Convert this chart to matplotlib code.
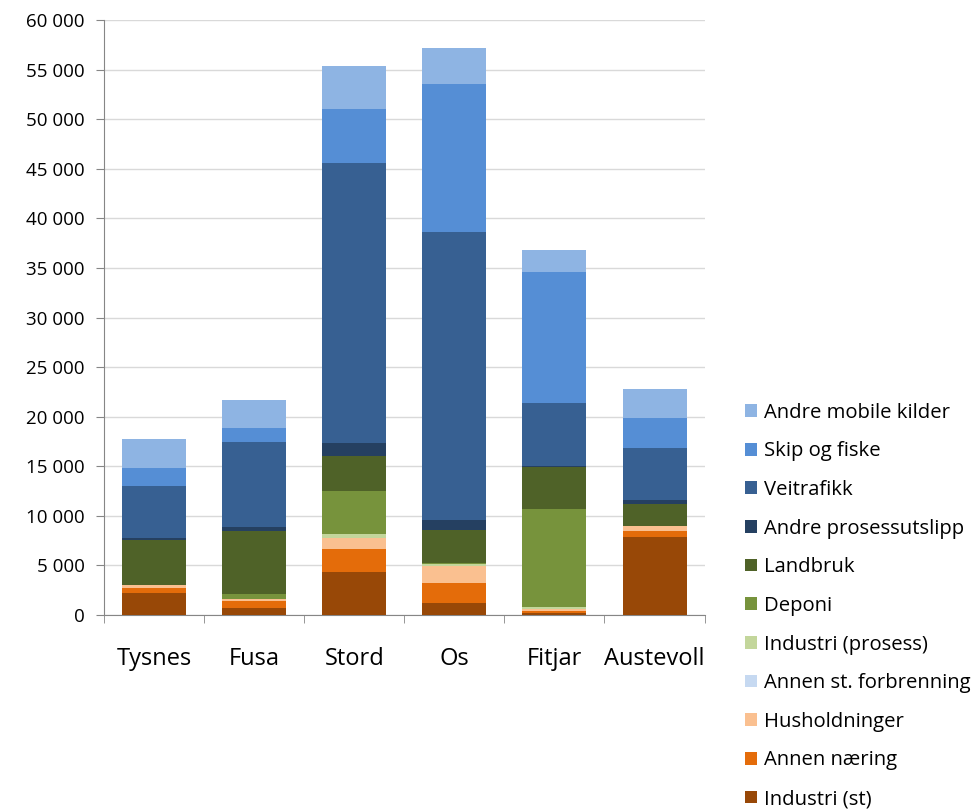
import numpy as np
import matplotlib.pyplot as plt
from matplotlib.ticker import FuncFormatter, MultipleLocator

plt.rcParams['font.family'] = ['Open Sans', 'DejaVu Sans']

kommuner = ['Tysnes', 'Fusa', 'Stord', 'Os', 'Fitjar', 'Austevoll']

# stacked from the bottom up
industri_st = [2250, 680, 4300, 1180, 200, 7900]
annen_naering = [500, 700, 2360, 2020, 250, 570]
husholdninger = [280, 200, 1140, 1770, 190, 530]
annen_st_forbrenning = [0, 0, 0, 0, 0, 0]
industri_prosess = [0, 40, 370, 200, 200, 0]
deponi = [0, 540, 4330, 70, 9820, 0]
landbruk = [4530, 6350, 3530, 3360, 4280, 2160]
andre_prosessutslipp = [180, 370, 1350, 950, 120, 440]
veitrafikk = [5280, 8540, 28170, 29040, 6290, 5210]
skip_og_fiske = [1780, 1480, 5450, 14960, 13270, 3090]
andre_mobile_kilder = [2930, 2820, 4360, 3600, 2190, 2890]

series = [
    ('Industri (st)', industri_st, '#984807'),
    ('Annen næring', annen_naering, '#E46C0A'),
    ('Husholdninger', husholdninger, '#FAC090'),
    ('Annen st. forbrenning', annen_st_forbrenning, '#C6D9F1'),
    ('Industri (prosess)', industri_prosess, '#C3D69B'),
    ('Deponi', deponi, '#77933C'),
    ('Landbruk', landbruk, '#4F6228'),
    ('Andre prosessutslipp', andre_prosessutslipp, '#254061'),
    ('Veitrafikk', veitrafikk, '#376092'),
    ('Skip og fiske', skip_og_fiske, '#558ED5'),
    ('Andre mobile kilder', andre_mobile_kilder, '#8EB4E3'),
]

fig = plt.figure(figsize=(9.8, 8.1), dpi=100)
ax = fig.add_axes([0.106, 0.2407, 0.613, 0.7346])

x = np.arange(len(kommuner))
bottom = np.zeros(len(kommuner))
handles = []
for name, vals, col in series:
    vals = np.array(vals, dtype=float)
    b = ax.bar(x, vals, width=0.64, bottom=bottom, color=col, label=name,
               edgecolor='none', zorder=3)
    handles.append(b)
    bottom += vals

ax.set_xlim(-0.5, len(kommuner) - 0.5)
ax.set_ylim(0, 60000)
ax.yaxis.set_major_locator(MultipleLocator(5000))
ax.yaxis.set_major_formatter(FuncFormatter(lambda v, p: f'{int(v):,}'.replace(',', ' ')))
ax.grid(axis='y', color='#D9D9D9', linewidth=1, zorder=0)

ax.set_xticks(x)
ax.set_xticklabels(kommuner, fontsize=17)
ax.set_xticks(np.arange(len(kommuner) + 1) - 0.5, minor=True)
ax.tick_params(axis='x', which='major', length=0, pad=23)
ax.tick_params(axis='x', which='minor', length=6, color='#868686')
ax.tick_params(axis='y', length=6, color='#868686', labelsize=13.5, pad=8)

for side in ['top', 'right']:
    ax.spines[side].set_visible(False)
for side in ['left', 'bottom']:
    ax.spines[side].set_color('#868686')

fig.legend(handles[::-1], [s[0] for s in series][::-1],
           loc='upper left', bbox_to_anchor=(0.752, 0.513),
           frameon=False, fontsize=14.6, handlelength=0.6, handleheight=0.6,
           handletextpad=0.35, labelspacing=0.92, borderaxespad=0)

fig.savefig('out.png', dpi=100)
